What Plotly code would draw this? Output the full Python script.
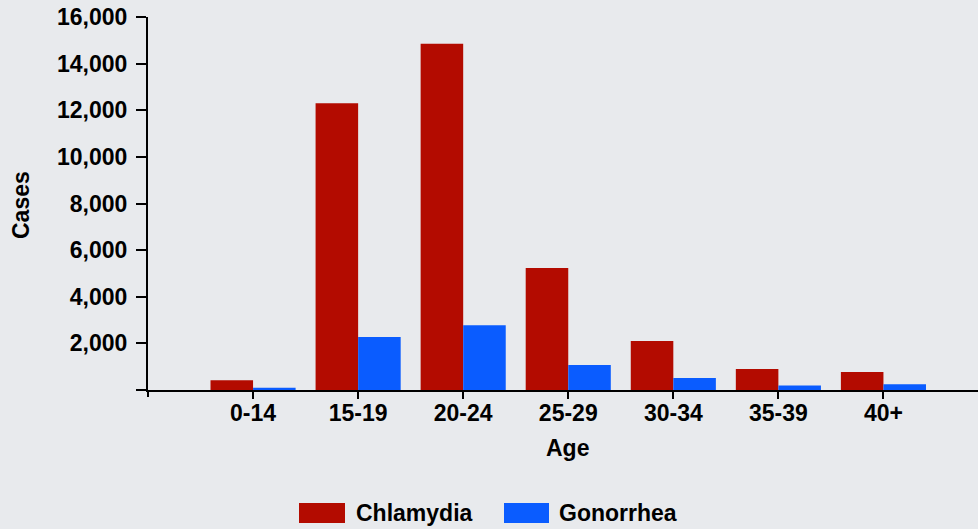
import plotly.graph_objects as go

ages = ["0-14", "15-19", "20-24", "25-29", "30-34", "35-39", "40+"]
chlamydia = [420, 12300, 14850, 5230, 2100, 900, 770]
gonorrhea = [100, 2270, 2780, 1070, 520, 190, 250]
y_ticks = [0, 2000, 4000, 6000, 8000, 10000, 12000, 14000, 16000]
y_labels = ["", "2,000", "4,000", "6,000", "8,000", "10,000", "12,000", "14,000", "16,000"]

RED = "#B30B00"
BLUE = "#0A5CFF"
BG = "#E8EAED"
FONT = "Liberation Sans, Arial, sans-serif"

fig = go.Figure()
fig.add_trace(go.Bar(x=ages, y=chlamydia, name="Chlamydia", marker_color=RED, marker_line_width=0))
fig.add_trace(go.Bar(x=ages, y=gonorrhea, name="Gonorrhea", marker_color=BLUE, marker_line_width=0))

W, H = 978, 529
L, R, T, B = 148, 0, 17, 529 - 390
pw, ph = W - L - R, H - T - B

def px(x):
    return (x - L) / pw

def py(y):
    return (H - B - y) / ph

shapes = [
    dict(type="line", xref="paper", yref="paper", x0=0, x1=0, y0=0, y1=py(397),
         line=dict(color="black", width=2)),
    dict(type="rect", xref="paper", yref="paper", x0=px(299), x1=px(345), y0=py(523), y1=py(503),
         fillcolor=RED, line=dict(width=0)),
    dict(type="rect", xref="paper", yref="paper", x0=px(504), x1=px(549), y0=py(523), y1=py(503),
         fillcolor=BLUE, line=dict(width=0)),
]
annotations = [
    dict(xref="paper", yref="paper", x=px(354), y=py(513), text="<b>Chlamydia</b>", showarrow=False,
         xanchor="left", yanchor="middle", font=dict(family=FONT, size=23, color="black")),
    dict(xref="paper", yref="paper", x=px(557), y=py(513), text="<b>Gonorrhea</b>", showarrow=False,
         xanchor="left", yanchor="middle", font=dict(family=FONT, size=23, color="black")),
    dict(xref="paper", yref="paper", x=px(567), y=py(448), text="<b>Age</b>", showarrow=False,
         xanchor="center", yanchor="middle", font=dict(family=FONT, size=23, color="black")),
    dict(xref="paper", yref="paper", x=px(21), y=py(205), text="<b>Cases</b>", showarrow=False,
         textangle=-90, xanchor="center", yanchor="middle",
         font=dict(family=FONT, size=23, color="black")),
]

fig.update_layout(
    width=W, height=H,
    margin=dict(l=L, r=R, t=T, b=B),
    paper_bgcolor=BG, plot_bgcolor=BG,
    barmode="group", bargap=0.19, bargroupgap=0,
    showlegend=False,
    shapes=shapes, annotations=annotations,
    font=dict(family=FONT, color="black"),
)
fig.update_xaxes(
    type="category", range=[-1, 6.9],
    showline=True, linecolor="black", linewidth=2,
    ticks="outside", ticklen=7, tickwidth=2, tickcolor="black",
    tickfont=dict(family=FONT, size=23, weight="bold"),
    ticklabelstandoff=-6,
    showgrid=False, zeroline=False,
)
fig.update_yaxes(
    range=[0, 16000],
    tickmode="array", tickvals=y_ticks, ticktext=y_labels,
    showline=True, linecolor="black", linewidth=2,
    ticks="outside", ticklen=10, tickwidth=1.5, tickcolor="black",
    tickfont=dict(family=FONT, size=23, weight="bold"),
    ticklabelstandoff=4, ticklabeloverflow="allow",
    showgrid=False, zeroline=False,
)
fig.write_html(
    "out.html",
    config={"displayModeBar": False},
    post_script="document.body.style.margin='0';document.body.style.background='#E8EAED';",
)
